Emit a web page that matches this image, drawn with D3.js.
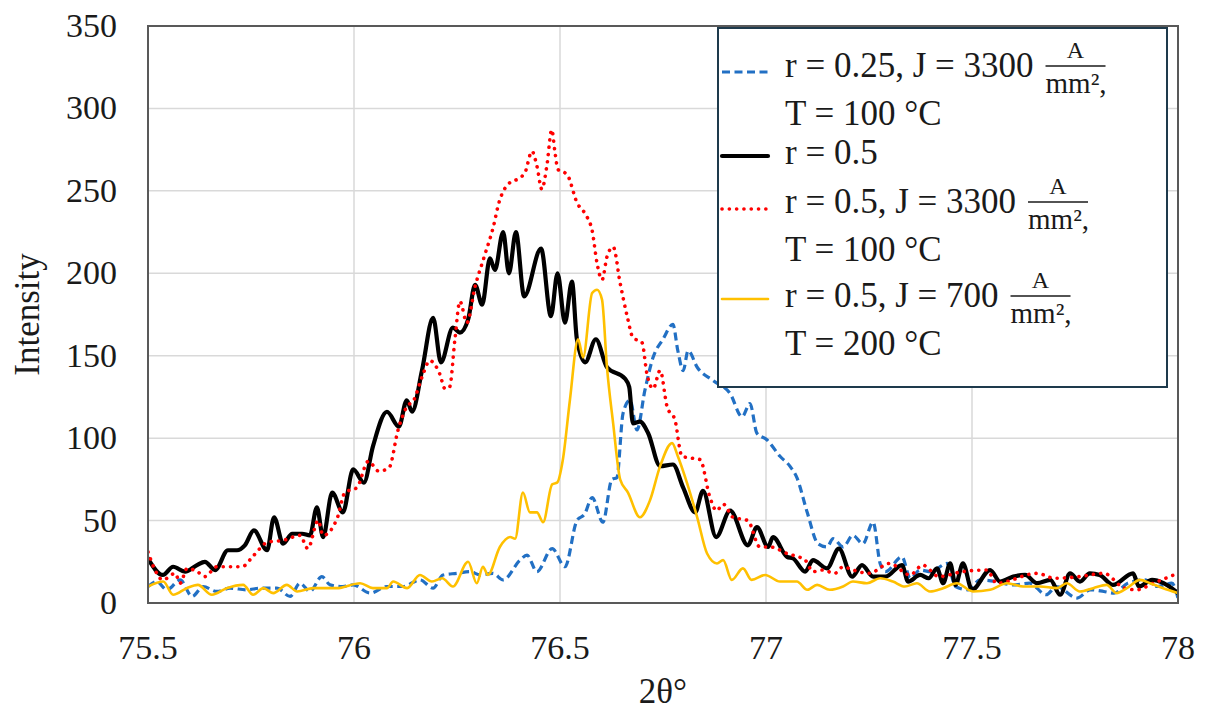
<!DOCTYPE html>
<html lang="en">
<head>
  <meta charset="UTF-8">
  <title>XRD peak</title>
  <script src="https://d3js.org/d3.v7.min.js"></script>
  <style>
    body { margin: 0; background: #fff; }
    svg { display: block; font-family: "Liberation Serif", "Times New Roman", serif; }
    .tick-label { font-size: 34px; fill: #1a1a1a; }
    .axis-title { font-size: 35px; fill: #1a1a1a; }
    .grid line { stroke: #d9d9d9; stroke-width: 1.5; }
    .legend-text { font-size: 35px; fill: #1a1a1a; }
    .frac-text { font-size: 24px; fill: #1a1a1a; }
    .frac-den { font-size: 29px; fill: #1a1a1a; }
  </style>
</head>
<body>
<svg width="1205" height="713"></svg>
<script>
// tick labels
const xTicks = [75.5, 76, 76.5, 77, 77.5, 78];
const yTicks = [0, 50, 100, 150, 200, 250, 300, 350];

// r = 0.25, J = 3300 A/mm2, T = 100 C  (2theta, intensity)
const r025J3300 = [
  [75.5,10],[75.521,13],[75.546,8],[75.578,14],[75.607,4],[75.634,10],[75.667,7],[75.699,9],
  [75.74,8],[75.772,9],[75.813,9],[75.845,4],[75.869,12],[75.893,7],[75.922,16],[75.942,11],
  [75.973,10],[75.998,11],[76.039,6],[76.08,10],[76.119,10],[76.16,14],[76.192,9],[76.216,17],
  [76.25,18],[76.282,19],[76.306,17],[76.337,18],[76.362,14],[76.403,26],[76.42,29],[76.444,19],
  [76.481,33],[76.512,22],[76.541,50],[76.56,54],[76.578,64],[76.604,49],[76.626,75],[76.638,76],
  [76.653,115],[76.67,123],[76.687,105],[76.706,129],[76.726,149],[76.75,160],[76.774,169],
  [76.786,153],[76.799,141],[76.811,153],[76.833,143],[76.871,135],[76.913,127],[76.942,113],
  [76.961,121],[76.978,103],[77.002,99],[77.034,89],[77.058,83],[77.075,76],[77.1,55],[77.126,36],
  [77.148,34],[77.163,39],[77.187,34],[77.211,41],[77.235,36],[77.26,49],[77.277,24],[77.29,19],
  [77.33,28],[77.35,15],[77.374,20],[77.4,19],[77.44,24],[77.46,10],[77.49,8],[77.52,14],
  [77.56,13],[77.6,11],[77.64,12],[77.68,5],[77.705,10],[77.755,3],[77.787,8],[77.82,7],
  [77.845,6],[77.878,12],[77.92,14],[77.95,10],[77.985,12],[78.0,3]
];

// r = 0.5
const r05 = [
  [75.5,27],[75.536,17],[75.561,22],[75.59,19],[75.619,23],[75.638,25],[75.663,20],[75.694,32],
  [75.716,32],[75.735,35],[75.757,44],[75.789,32],[75.806,52],[75.828,36],[75.85,42],[75.874,42],
  [75.893,41],[75.91,58],[75.925,40],[75.947,67],[75.973,55],[75.998,81],[76.024,73],[76.046,95],
  [76.08,116],[76.109,107],[76.128,123],[76.141,116],[76.165,141],[76.192,173],[76.211,146],
  [76.24,167],[76.257,164],[76.277,172],[76.294,193],[76.311,181],[76.33,209],[76.342,202],
  [76.362,225],[76.376,200],[76.393,225],[76.413,186],[76.454,215],[76.478,174],[76.494,200],
  [76.512,170],[76.529,195],[76.541,160],[76.561,146],[76.587,160],[76.614,143],[76.658,136],
  [76.668,131],[76.677,109],[76.694,110],[76.714,103],[76.743,83],[76.774,84],[76.799,70],
  [76.828,55],[76.847,68],[76.879,40],[76.913,56],[76.956,35],[76.978,46],[77.005,34],[77.017,40],
  [77.051,28],[77.066,27],[77.095,19],[77.114,26],[77.148,21],[77.177,33],[77.209,16],[77.233,23],
  [77.26,16],[77.29,16],[77.33,23],[77.345,13],[77.374,17],[77.395,15],[77.415,21],[77.43,12],
  [77.447,24],[77.46,11],[77.478,24],[77.5,8],[77.544,20],[77.568,13],[77.6,16],[77.629,17],
  [77.658,12],[77.69,14],[77.714,5],[77.738,18],[77.762,13],[77.786,18],[77.81,17],[77.842,11],
  [77.891,18],[77.905,10],[77.937,14],[77.965,12],[78.0,6]
];

// r = 0.5, J = 3300 A/mm2, T = 100 C
const r05J3300 = [
  [75.5,31],[75.517,20],[75.536,14],[75.566,18],[75.578,12],[75.595,21],[75.62,19],[75.638,16],
  [75.667,22],[75.699,22],[75.728,22],[75.757,29],[75.791,37],[75.828,38],[75.869,41],[75.888,33],
  [75.913,50],[75.925,41],[75.96,52],[75.978,67],[76.007,70],[76.035,86],[76.06,80],[76.085,82],
  [76.107,105],[76.128,119],[76.145,123],[76.165,137],[76.184,147],[76.208,139],[76.221,130],
  [76.232,131],[76.245,160],[76.257,183],[76.274,170],[76.294,192],[76.316,210],[76.338,228],
  [76.352,243],[76.374,254],[76.403,258],[76.415,261],[76.432,274],[76.444,265],[76.456,251],
  [76.468,265],[76.48,287],[76.488,273],[76.495,263],[76.517,260],[76.541,243],[76.566,234],
  [76.578,226],[76.59,206],[76.602,196],[76.614,210],[76.629,216],[76.646,194],[76.663,174],
  [76.677,161],[76.699,158],[76.711,139],[76.726,130],[76.743,141],[76.76,119],[76.779,111],
  [76.796,89],[76.816,88],[76.84,87],[76.864,64],[76.88,56],[76.896,60],[76.92,52],[76.956,50],
  [76.985,34],[77.01,34],[77.051,30],[77.095,26],[77.114,19],[77.138,20],[77.167,18],[77.187,22],
  [77.211,20],[77.25,18],[77.3,24],[77.35,17],[77.38,23],[77.42,16],[77.476,19],[77.536,20],
  [77.56,12],[77.658,18],[77.7,15],[77.76,16],[77.82,18],[77.87,9],[77.9,8],[77.94,12],[78.0,18]
];

// r = 0.5, J = 700 A/mm2, T = 200 C
const r05J700 = [
  [75.5,10],[75.537,13],[75.561,5],[75.594,9],[75.621,11],[75.655,5],[75.691,9],[75.731,11],
  [75.755,5],[75.78,9],[75.804,6],[75.837,11],[75.862,7],[75.901,9],[75.958,9],[76.015,12],
  [76.046,9],[76.08,9],[76.095,13],[76.129,9],[76.16,17],[76.189,13],[76.214,15],[76.24,10],
  [76.277,25],[76.298,12],[76.313,22],[76.325,17],[76.354,34],[76.379,40],[76.391,39],[76.41,67],
  [76.427,55],[76.444,55],[76.459,49],[76.481,72],[76.493,73],[76.507,87],[76.524,123],
  [76.544,160],[76.556,149],[76.578,188],[76.59,190],[76.602,184],[76.614,143],[76.629,109],
  [76.646,75],[76.665,67],[76.694,52],[76.718,62],[76.743,83],[76.772,97],[76.786,89],[76.808,73],
  [76.833,52],[76.857,30],[76.881,24],[76.896,26],[76.917,14],[76.944,21],[76.965,14],[76.998,17],
  [77.034,13],[77.075,13],[77.1,8],[77.124,11],[77.155,8],[77.187,10],[77.211,13],[77.245,12],
  [77.277,15],[77.308,13],[77.337,10],[77.366,12],[77.398,7],[77.43,9],[77.463,12],[77.502,7],
  [77.544,8],[77.585,12],[77.624,10],[77.665,10],[77.706,9],[77.73,12],[77.762,7],[77.794,9],
  [77.827,11],[77.851,6],[77.876,9],[77.908,14],[77.932,12],[77.964,9],[78.0,6]
];

const svg = d3.select("svg");
const margin = {top: 26, right: 27, bottom: 110, left: 148};
const W = 1205, H = 713;

const x = d3.scaleLinear().domain([75.5, 78]).range([margin.left, W - margin.right]);
const y = d3.scaleLinear().domain([0, 350]).range([H - margin.bottom, margin.top]);

svg.append("rect").attr("width", W).attr("height", H).attr("fill", "#fff");

// grid
const grid = svg.append("g").attr("class", "grid");
grid.selectAll(".h").data(yTicks).enter().append("line")
  .attr("x1", x(75.5)).attr("x2", x(78))
  .attr("y1", d => y(d)).attr("y2", d => y(d));
grid.selectAll(".v").data(xTicks).enter().append("line")
  .attr("y1", y(0)).attr("y2", y(350))
  .attr("x1", d => x(d)).attr("x2", d => x(d));

svg.append("defs").append("clipPath").attr("id", "plot")
  .append("rect").attr("x", x(75.5)).attr("y", y(350))
  .attr("width", x(78) - x(75.5)).attr("height", y(0) - y(350));

const series = [
  {data: r025J3300, color: "#2270c4", width: 3.2, dash: "8 4.5", cap: "butt"},
  {data: r05, color: "#000000", width: 4.2, dash: null, cap: "round"},
  {data: r05J3300, color: "#ff0000", width: 3.6, dash: "0.1 7.2", cap: "round"},
  {data: r05J700, color: "#ffc000", width: 2.6, dash: null, cap: "round"}
];

const line = d3.line().x(d => x(d[0])).y(d => y(d[1])).curve(d3.curveMonotoneX);

svg.append("g").attr("clip-path", "url(#plot)")
  .selectAll("path").data(series).enter().append("path")
  .attr("d", d => line(d.data))
  .attr("fill", "none")
  .attr("stroke", d => d.color)
  .attr("stroke-width", d => d.width)
  .attr("stroke-dasharray", d => d.dash)
  .attr("stroke-linecap", d => d.cap)
  .attr("stroke-linejoin", "round");

// frame
svg.append("rect")
  .attr("x", x(75.5)).attr("y", y(350))
  .attr("width", x(78) - x(75.5)).attr("height", y(0) - y(350))
  .attr("fill", "none").attr("stroke", "#595959").attr("stroke-width", 2);

// tick labels
svg.selectAll(".ylab").data(yTicks).enter().append("text")
  .attr("class", "tick-label")
  .attr("x", margin.left - 31).attr("y", d => y(d) + 11)
  .attr("text-anchor", "end").text(d => d);
svg.selectAll(".xlab").data(xTicks).enter().append("text")
  .attr("class", "tick-label")
  .attr("x", d => x(d)).attr("y", y(0) + 56)
  .attr("text-anchor", "middle").text(d => d3.format("~")(d));

svg.append("text").attr("class", "axis-title")
  .attr("x", (x(75.5) + x(78)) / 2).attr("y", 703)
  .attr("text-anchor", "middle").text("2θ°");
svg.append("text").attr("class", "axis-title")
  .attr("transform", `translate(39,${(y(0) + y(350)) / 2}) rotate(-90)`)
  .attr("text-anchor", "middle").text("Intensity");

// legend
const legendRows = [
  {label: "r = 0.25, J = 3300", second: "T = 100 °C"},
  {label: "r = 0.5", second: null},
  {label: "r = 0.5, J = 3300", second: "T = 100 °C"},
  {label: "r = 0.5, J = 700", second: "T = 200 °C"}
];
const legend = svg.append("g");
legend.append("rect")
  .attr("x", 718).attr("y", 28).attr("width", 449).attr("height", 359)
  .attr("fill", "#fff").attr("stroke", "#1e3a4c").attr("stroke-width", 2);

const rowBase = [77, 164, 213, 307];
const symY = [72, 156, 209, 299];
legendRows.forEach((r, i) => {
  const s = series[i];
  legend.append("line")
    .attr("x1", 722).attr("x2", 768).attr("y1", symY[i]).attr("y2", symY[i])
    .attr("stroke", s.color).attr("stroke-width", s.width)
    .attr("stroke-dasharray", s.dash).attr("stroke-linecap", s.cap);
  const t = legend.append("text").attr("class", "legend-text")
    .attr("x", 785).attr("y", rowBase[i]).text(r.label);
  if (r.second) {
    const w = t.node().getComputedTextLength();
    const fx = 785 + w + 12, fw = 60;
    legend.append("line")
      .attr("x1", fx).attr("x2", fx + fw)
      .attr("y1", rowBase[i] - 11).attr("y2", rowBase[i] - 11)
      .attr("stroke", "#1a1a1a").attr("stroke-width", 1.4);
    legend.append("text").attr("class", "frac-text")
      .attr("x", fx + fw / 2).attr("y", rowBase[i] - 19)
      .attr("text-anchor", "middle").text("A");
    legend.append("text").attr("class", "frac-den")
      .attr("x", fx).attr("y", rowBase[i] + 16)
      .text("mm²,");
    legend.append("text").attr("class", "legend-text")
      .attr("x", 785).attr("y", rowBase[i] + 48).text(r.second);
  }
});
</script>
</body>
</html>
